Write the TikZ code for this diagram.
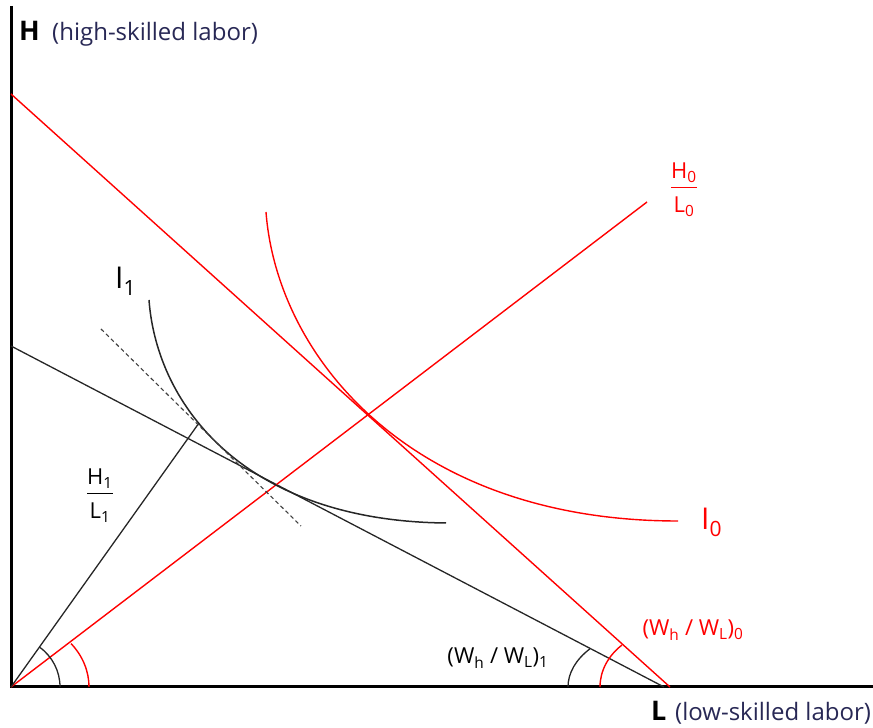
\documentclass[tikz,border=0pt]{standalone}
\usepackage{fontspec}
\setmainfont{Open Sans}
\definecolor{axisnote}{RGB}{40,40,85}
\definecolor{isored}{RGB}{255,0,0}
\newcommand{\fsz}[1]{\fontsize{#1}{#1}\selectfont}
\begin{document}
\begin{tikzpicture}[x=1pt,y=1pt,
  axisline/.style={line width=3pt},
  blackline/.style={line width=1.3pt,black!85},
  redline/.style={line width=1.4pt,isored},
  tanline/.style={line width=1.1pt,black!75,dash pattern=on 4pt off 3pt},
  lab/.style={inner sep=0pt,anchor=base west}]
  \useasboundingbox (-11,-41) rectangle (862,687);
  % axes
  \coordinate (O) at (0,0);
  \coordinate (ytop) at (0,681);
  \coordinate (xend) at (862,0);
  \draw[axisline] (ytop) -- (O) -- (xend);
  % budget lines
  \coordinate (rb1) at (0,593);
  \coordinate (rb2) at (659,0);
  \coordinate (bb1) at (0,341);
  \coordinate (bb2) at (653,0);
  \draw[redline] (rb1) -- (rb2);
  \draw[blackline] (bb1) -- (bb2);
  % rays H/L from the origin
  \coordinate (rr) at (636,485);
  \coordinate (br) at (188,264);
  \draw[redline] (O) -- (rr);
  \draw[blackline] (O) -- (br);
  % isoquants I0 and I1
  \coordinate (i0s) at (255,475);
  \coordinate (i0e) at (667,166);
  \draw[redline] (i0s) .. controls (266,330) and (400,166) .. (i0e);
  \coordinate (i1s) at (138,387);
  \coordinate (i1e) at (435,164);
  \draw[blackline,line width=1.5pt] (i1s) .. controls (146,280) and (235,166) .. (i1e);
  % dashed tangent at the old ratio
  \coordinate (d1) at (90,358);
  \coordinate (d2) at (290,161);
  \draw[tanline] (d1) -- (d2);
  % angle marks
  \draw[blackline] (O) ++(49,0) arc[start angle=0,end angle=54.5,radius=49];
  \draw[redline] (O) ++(78,0) arc[start angle=0,end angle=39.7,x radius=78,y radius=68];
  \draw[blackline] (bb2) ++(-96,0) arc[start angle=180,end angle=140.4,x radius=96,y radius=60];
  \draw[redline] (rb2) ++(-70,0) arc[start angle=180,end angle=133.3,x radius=70,y radius=57.7];
  % axis labels
  \node[lab,font=\fsz{27}\bfseries] (hlab) at (8,646) {H};
  \node[lab,font=\fsz{24},text=axisnote] (hnote) at (41,646) {(high-skilled labor)};
  \node[lab,font=\fsz{27}\bfseries] (llab) at (640,-34) {L};
  \node[lab,font=\fsz{24},text=axisnote] (lnote) at (664,-34) {(low-skilled labor)};
  % curve and ratio labels
  \node[lab,font=\fsz{30}] (i1lab) at (104,398) {I\textsubscript{1}};
  \node[lab,font=\fsz{30},text=isored] (i0lab) at (690,157) {I\textsubscript{0}};
  \setlength{\arrayrulewidth}{1.3pt}
  \node[inner sep=0pt,font=\fsz{22},text=isored] (hl0) at (673,496)
    {\begin{tabular}{@{}c@{}}H\textsubscript{0}\\[2pt]\hline\rule{0pt}{24pt}L\textsubscript{0}\end{tabular}};
  \node[inner sep=0pt,font=\fsz{22}] (hl1) at (89,190)
    {\begin{tabular}{@{}c@{}}H\textsubscript{1}\\[2pt]\hline\rule{0pt}{24pt}L\textsubscript{1}\end{tabular}};
  \node[inner sep=0pt,font=\fsz{22},text=isored] (w0lab) at (682,57)
    {(W\textsubscript{h} / W\textsubscript{L})\textsubscript{0}};
  \node[inner sep=0pt,font=\fsz{22}] (w1lab) at (487,29)
    {(W\textsubscript{h} / W\textsubscript{L})\textsubscript{1}};
\end{tikzpicture}
\end{document}
